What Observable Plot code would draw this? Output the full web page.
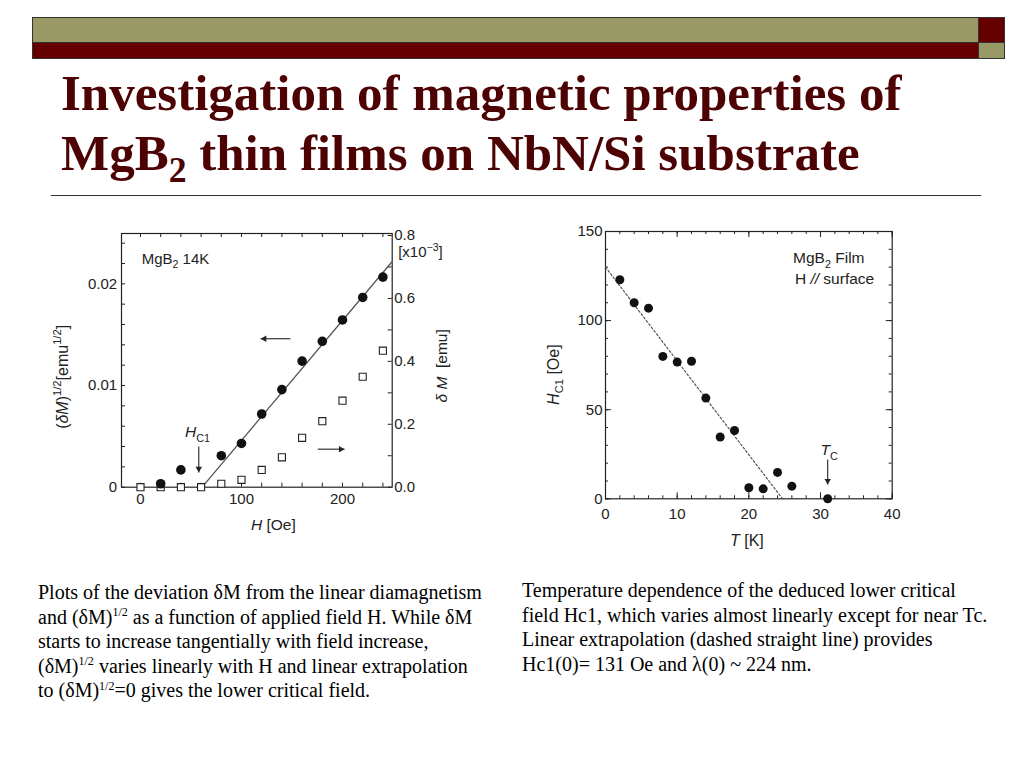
<!DOCTYPE html>
<html><head><meta charset="utf-8">
<script src="https://cdn.jsdelivr.net/npm/d3@7"></script>
<script src="https://cdn.jsdelivr.net/npm/@observablehq/plot@0.6"></script>
<style>
body{margin:0;width:1024px;height:768px;position:relative;background:#fff;overflow:hidden;}
.abs{position:absolute;box-sizing:border-box;}
.title{position:absolute;left:61px;font-family:'Liberation Serif','Times New Roman',serif;font-weight:bold;font-size:51px;line-height:60px;color:#4d0303;white-space:nowrap;}
.sub{font-size:0.7em;position:relative;top:0.33em;}
.cap{position:absolute;font-family:'Liberation Serif','Times New Roman',serif;font-size:20px;line-height:24.5px;color:#000;white-space:nowrap;}
.cap sup{font-size:0.6em;vertical-align:baseline;position:relative;top:-0.62em;line-height:0;}
.plot{position:absolute;}
</style></head><body>
<div class="abs" style="left:32px;top:17px;width:947px;height:26px;background:#999966;border:1px solid #333;"></div>
<div class="abs" style="left:32px;top:42px;width:947px;height:17px;background:#660000;border:1px solid #333;"></div>
<div class="abs" style="left:978px;top:17px;width:27px;height:26px;background:#660000;border:1px solid #333;"></div>
<div class="abs" style="left:978px;top:42px;width:27px;height:17px;background:#999966;border:1px solid #333;"></div>
<div class="title" style="top:63px;">Investigation of magnetic properties of</div>
<div class="title" style="top:123px;">MgB<span class="sub">2</span> thin films on NbN/Si substrate</div>
<div class="abs" style="left:51px;top:195px;width:930px;height:0;border-top:1.5px solid #333;"></div>
<div id="left" class="plot" style="left:40px;top:220px;"></div>
<div id="right" class="plot" style="left:540px;top:220px;"></div>
<div class="cap" style="left:38px;top:580px;">Plots of the deviation δM from the linear diamagnetism<br>and (δM)<sup>1/2</sup> as a function of applied field H. While δM<br>starts to increase tangentially with field increase,<br>(δM)<sup>1/2</sup> varies linearly with H and linear extrapolation<br>to (δM)<sup>1/2</sup>=0 gives the lower critical field.</div>
<div class="cap" style="left:522px;top:578px;">Temperature dependence of the deduced lower critical<br>field Hc1, which varies almost linearly except for near Tc.<br>Linear extrapolation (dashed straight line) provides<br>Hc1(0)= 131 Oe and λ(0) ~ 224 nm.</div>
<script>
// ---------- data: left chart (MgB2 14K) ----------
const hCircle = [20, 40, 80, 100, 120, 140, 160, 180, 200, 220, 240];
const sqrtDeltaM = [0.00034, 0.0017, 0.0031, 0.0043, 0.0072, 0.0096, 0.0124, 0.01435, 0.01645, 0.01866, 0.02066];
const hSquare = [0, 20, 40, 60, 80, 100, 120, 140, 160, 180, 200, 220, 240];
const deltaM = [0, 0, 0, 0, 0.011, 0.0235, 0.055, 0.095, 0.157, 0.21, 0.275, 0.351, 0.434]; // x10^-3 emu
const fitH = [61, 249.2];
const fitV = [0, 0.0222];
const leftXLabels = [0, 100, 200];
const leftXTicks = [0, 20, 40, 60, 80, 100, 120, 140, 160, 180, 200, 220, 240];
const leftYLabels = [0, 0.01, 0.02];
const leftYTicks = [0, 0.002, 0.004, 0.006, 0.008, 0.01, 0.012, 0.014, 0.016, 0.018, 0.02, 0.022, 0.024];
const rightYLabels = [0, 0.2, 0.4, 0.6, 0.8];
const rightYTicks = [0, 0.1, 0.2, 0.3, 0.4, 0.5, 0.6, 0.7, 0.8];
const leftArrows = [
  {x1: 57.7, y1: 0.0040, x2: 57.7, y2: 0.00145, dir: "down"},
  {x1: 148.5, y1: 0.0146, x2: 119, y2: 0.0146, dir: "left"},
  {x1: 175.5, y1: 0.00374, x2: 202, y2: 0.00374, dir: "right"}
];
// ---------- data: right chart (Hc1 vs T) ----------
const temps = [2, 4, 6, 8, 10, 12, 14, 16, 18, 20, 22, 24, 26, 31];
const hc1 = [122.9, 110, 107, 79.9, 76.7, 77.2, 56.5, 34.7, 38.3, 6.2, 5.6, 14.8, 7.1, 0];
const extT = [0, 24.7];
const extH = [130, 0];
const rXLabels = [0, 10, 20, 30, 40];
const rXMinor = d3.range(0, 41, 2);
const rYLabels = [0, 50, 100, 150];
const rYMinor = d3.range(0, 151, 10);
const tcArrow = [{x1: 31, y1: 22, x2: 31, y2: 8}];

const FONT = "'Liberation Sans', Arial, Helvetica, sans-serif";
const INK = "#222";
const FS = 15;

function rich(svg, {x, y, rotate = 0, anchor = "start", size = FS, parts}) {
  const t = d3.select(svg).append("text")
    .attr("transform", `translate(${x},${y}) rotate(${rotate})`)
    .attr("text-anchor", anchor).attr("dy", "0.35em")
    .attr("font-family", FONT).attr("font-size", size).attr("fill", INK);
  let shift = 0;
  for (const p of parts) {
    const ts = t.append("tspan").text(p.t);
    const target = p.sup ? -0.42 * size : p.sub ? 0.3 * size : 0;
    if (target !== shift) { ts.attr("dy", target - shift); shift = target; }
    if (p.sup || p.sub) ts.attr("font-size", size * 0.7);
    if (p.i) ts.attr("font-style", "italic");
  }
}
const tipOff = r => 2 * r * Math.sqrt(Math.PI / (3 * Math.sqrt(3)));

// ---------- left plot ----------
{
  const W = 430, H = 325, mL = 81, mR = 78.3, mT = 13, mB = 58.3;
  const fw = W - mL - mR, fh = H - mT - mB;
  const k = 0.03094; // right-axis unit -> left-axis unit
  const circles = hCircle.map((h, i) => ({h, v: sqrtDeltaM[i]}));
  const squares = hSquare.map((h, i) => ({h, m: deltaM[i]}));
  const fit = fitH.map((h, i) => ({h, v: fitV[i]}));
  const hr = 2.4, off = tipOff(hr);
  const p = Plot.plot({
    width: W, height: H, marginLeft: mL, marginRight: mR, marginTop: mT, marginBottom: mB,
    x: {domain: [-18.8, 249.2]}, y: {domain: [0, 0.02495]},
    style: {fontFamily: FONT, fontSize: FS + "px", color: INK, background: "transparent", overflow: "visible"},
    marks: [
      Plot.tickY(leftYTicks, {y: d => d, insetRight: fw - 4, stroke: INK}),
      Plot.tickY(rightYTicks.map(v => v * k), {y: d => d, insetLeft: fw - 4, stroke: INK}),
      Plot.tickX(leftXTicks, {x: d => d, insetTop: fh - 4, stroke: INK}),
      Plot.tickX(leftXTicks, {x: d => d, insetBottom: fh - 4, stroke: INK}),
      Plot.frame({stroke: INK, strokeWidth: 1.2}),
      Plot.axisY({ticks: leftYLabels, tickSize: 0, tickPadding: 4.3, label: null, fontSize: FS,
        tickFormat: d => d === 0 ? "0" : d.toFixed(2)}),
      Plot.axisY({anchor: "right", ticks: rightYLabels.map(v => v * k), tickSize: 0, tickPadding: 2, label: null, fontSize: FS,
        tickFormat: d => (Math.round(d / k * 10) / 10).toFixed(1)}),
      Plot.axisX({ticks: leftXLabels, tickSize: 0, tickPadding: 6, label: null, fontSize: FS}),
      Plot.line(fit, {x: "h", y: "v", stroke: "#555", strokeWidth: 1.3}),
      Plot.dot(squares, {x: "h", y: d => d.m * k, symbol: "square", r: 4, fill: "white", stroke: INK, strokeWidth: 1.1}),
      Plot.dot(circles, {x: "h", y: "v", r: 4.8, fill: "#111"}),
      Plot.link(leftArrows, {x1: "x1", y1: "y1", x2: "x2", y2: "y2", stroke: INK, strokeWidth: 1.1}),
      Plot.dot(leftArrows.filter(d => d.dir === "down"), {x: "x2", y: "y2", symbol: "triangle", r: hr, rotate: 180, fill: INK, dy: -off}),
      Plot.dot(leftArrows.filter(d => d.dir === "left"), {x: "x2", y: "y2", symbol: "triangle", r: hr, rotate: 270, fill: INK, dx: off}),
      Plot.dot(leftArrows.filter(d => d.dir === "right"), {x: "x2", y: "y2", symbol: "triangle", r: hr, rotate: 90, fill: INK, dx: -off})
    ]
  });
  document.getElementById("left").appendChild(p);
  const sx = p.scale("x"), sy = p.scale("y");
  rich(p, {x: sx.apply(1.7), y: sy.apply(0.02246), size: 15, parts: [{t: "MgB"}, {t: "2", sub: true}, {t: " 14K"}]});
  rich(p, {x: sx.apply(44.6), y: sy.apply(0.00538), size: 15.5, parts: [{t: "H", i: true}, {t: "C1", sub: true}]});
  rich(p, {x: sx.apply(132), y: mT + fh + 38, anchor: "middle", size: 15.5, parts: [{t: "H", i: true}, {t: " [Oe]"}]});
  rich(p, {x: 22, y: mT + fh / 2 + 17, rotate: -90, anchor: "middle", size: 16, parts: [{t: "("}, {t: "δM", i: true}, {t: ")"}, {t: "1/2", sup: true}, {t: "[emu"}, {t: "1/2", sup: true}, {t: "]"}]});
  rich(p, {x: W - mR + 50, y: mT + fh / 2 + 6, rotate: -90, anchor: "middle", size: 15.5, parts: [{t: "δ M", i: true}, {t: "  [emu]"}]});
  rich(p, {x: W - mR + 6.5, y: sy.apply(0.8 * k) + 17, size: 15, parts: [{t: "[x10"}, {t: "−3", sup: true}, {t: "]"}]});
}

// ---------- right plot ----------
{
  const W = 380, H = 335, mL = 65, mR = 28.3, mT = 11, mB = 56.7;
  const fw = W - mL - mR, fh = H - mT - mB;
  const pts = temps.map((t, i) => ({t, h: hc1[i]}));
  const ext = extT.map((t, i) => ({t, h: extH[i]}));
  const majX = rXLabels, majY = rYLabels;
  const hr = 2.4, off = tipOff(hr);
  const p = Plot.plot({
    width: W, height: H, marginLeft: mL, marginRight: mR, marginTop: mT, marginBottom: mB,
    x: {domain: [0, 40]}, y: {domain: [0, 150]},
    style: {fontFamily: FONT, fontSize: FS + "px", color: INK, background: "transparent", overflow: "visible"},
    marks: [
      Plot.tickX(rXMinor, {x: d => d, insetTop: fh - 3, stroke: INK}),
      Plot.tickX(rXMinor, {x: d => d, insetBottom: fh - 3, stroke: INK}),
      Plot.tickX(majX, {x: d => d, insetTop: fh - 6, stroke: INK}),
      Plot.tickX(majX, {x: d => d, insetBottom: fh - 6, stroke: INK}),
      Plot.tickY(rYMinor, {y: d => d, insetRight: fw - 3, stroke: INK}),
      Plot.tickY(rYMinor, {y: d => d, insetLeft: fw - 3, stroke: INK}),
      Plot.tickY(majY, {y: d => d, insetRight: fw - 6, stroke: INK}),
      Plot.tickY(majY, {y: d => d, insetLeft: fw - 6, stroke: INK}),
      Plot.frame({stroke: INK, strokeWidth: 1.2}),
      Plot.axisY({ticks: rYLabels, tickSize: 0, tickPadding: 3, label: null, fontSize: FS}),
      Plot.axisX({ticks: rXLabels, tickSize: 0, tickPadding: 9.5, label: null, fontSize: FS}),
      Plot.line(ext, {x: "t", y: "h", stroke: "#555", strokeWidth: 1.2, strokeDasharray: "2,2.2"}),
      Plot.dot(pts, {x: "t", y: "h", r: 4.5, fill: "#111"}),
      Plot.link(tcArrow, {x1: "x1", y1: "y1", x2: "x2", y2: "y2", stroke: INK, strokeWidth: 1.1}),
      Plot.dot(tcArrow, {x: "x2", y: "y2", symbol: "triangle", r: hr, rotate: 180, fill: INK, dy: -off})
    ]
  });
  document.getElementById("right").appendChild(p);
  const sx = p.scale("x"), sy = p.scale("y");
  rich(p, {x: sx.apply(26.23), y: sy.apply(134.85), size: 15.5, parts: [{t: "MgB"}, {t: "2", sub: true}, {t: " Film"}]});
  rich(p, {x: sx.apply(26.5), y: sy.apply(123.1), size: 15.5, parts: [{t: "H "}, {t: "//", i: true}, {t: " surface"}]});
  rich(p, {x: sx.apply(31.28), y: sy.apply(27.1), anchor: "middle", size: 15.5, parts: [{t: "T", i: true}, {t: "C", sub: true}]});
  rich(p, {x: sx.apply(19.8), y: mT + fh + 42, anchor: "middle", size: 16, parts: [{t: "T", i: true}, {t: " [K]"}]});
  rich(p, {x: 13, y: mT + fh / 2 + 10, rotate: -90, anchor: "middle", size: 16, parts: [{t: "H", i: true}, {t: "C1", sub: true}, {t: " [Oe]"}]});
}
</script>
</body></html>
